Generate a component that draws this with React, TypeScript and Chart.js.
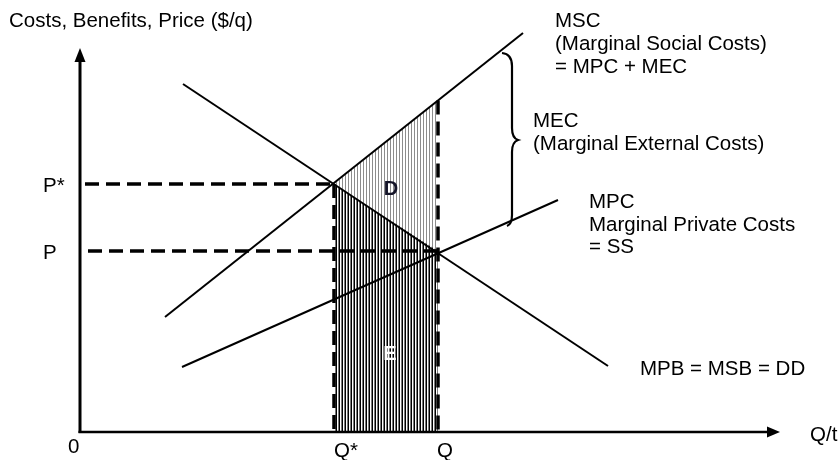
import React, { useEffect, useRef } from "react";
import { Chart, registerables } from "chart.js";

Chart.register(...registerables);

// ---- Data (x: quantity per time, y: $ per unit) ----
const Q_STAR = 50.8; // social optimum quantity
const Q_MKT = 71.6; // market quantity
const P_STAR = 62; // social optimum price
const P_MKT = 45.25; // market price
const MSC_AT_Q = 82.9; // MSC value at market quantity

const mpbX = [20.6, 105.6];
const mpbY = [87, 16.5];
const mscX = [17, 88.6];
const mscY = [28.75, 99.75];
const mpcX = [20.4, 95.6];
const mpcY = [16.25, 58];

const xLabels = ["Q*", "Q"];
const yLabels = ["P*", "P"];

const pts = (xs: number[], ys: number[]) => xs.map((x, i) => ({ x, y: ys[i] }));

const FONT = '"Liberation Sans", Arial, sans-serif';

export default function App() {
  const ref = useRef<HTMLCanvasElement | null>(null);

  useEffect(() => {
    const canvas = ref.current!;
    const ctx0 = canvas.getContext("2d")!;
    const mkPattern = (cols: string[]) => {
      const c = document.createElement("canvas");
      c.width = cols.length;
      c.height = 1;
      const g = c.getContext("2d")!;
      cols.forEach((col, i) => {
        g.fillStyle = col;
        g.fillRect(i, 0, 1, 1);
      });
      return ctx0.createPattern(c, "repeat")!;
    };
    const darkHatch = mkPattern(["#000000", "#ffffff", "#7a7a7a"]);
    const lightHatch = mkPattern(["#8c8c8c", "#ffffff", "#ffffff"]);

    const solid = (data: { x: number; y: number }[]) => ({
      data,
      borderColor: "#000",
      borderWidth: 2,
      pointRadius: 0,
      fill: false,
    });
    const dashed = (data: { x: number; y: number }[]) => ({
      data,
      borderColor: "#000",
      borderWidth: 3.5,
      borderDash: [14, 7],
      pointRadius: 0,
      fill: false,
    });

    const overlay = {
      id: "overlay",
      afterDraw(chart: any) {
        const ctx: CanvasRenderingContext2D = chart.ctx;
        const xs = chart.scales.x;
        const ys = chart.scales.y;
        const x0 = xs.getPixelForValue(0);
        const y0 = ys.getPixelForValue(0);
        const xTip = xs.getPixelForValue(140);
        const yTip = ys.getPixelForValue(96);
        ctx.save();
        // axes
        ctx.strokeStyle = "#000";
        ctx.fillStyle = "#000";
        ctx.lineWidth = 3;
        ctx.beginPath();
        ctx.moveTo(x0, y0 + 1);
        ctx.lineTo(x0, yTip + 10);
        ctx.stroke();
        ctx.lineWidth = 2.5;
        ctx.beginPath();
        ctx.moveTo(x0 - 1.5, y0);
        ctx.lineTo(xTip - 10, y0);
        ctx.stroke();
        ctx.beginPath();
        ctx.moveTo(x0, yTip);
        ctx.lineTo(x0 - 5.5, yTip + 14);
        ctx.lineTo(x0 + 5.5, yTip + 14);
        ctx.closePath();
        ctx.fill();
        ctx.beginPath();
        ctx.moveTo(xTip, y0);
        ctx.lineTo(xTip - 13, y0 - 5.5);
        ctx.lineTo(xTip - 13, y0 + 5.5);
        ctx.closePath();
        ctx.fill();

        // brace for MEC
        ctx.lineWidth = 2.2;
        ctx.beginPath();
        ctx.moveTo(502, 53);
        ctx.quadraticCurveTo(512, 54, 512, 66);
        ctx.lineTo(512, 128);
        ctx.quadraticCurveTo(512, 138, 518, 140);
        ctx.quadraticCurveTo(512, 142, 512, 152);
        ctx.lineTo(512, 215);
        ctx.quadraticCurveTo(512, 224, 507, 226);
        ctx.stroke();

        // texts
        ctx.textBaseline = "alphabetic";
        ctx.textAlign = "left";
        ctx.font = `20.5px ${FONT}`;
        ctx.fillStyle = "#000";
        const t = (s: string, x: number, y: number) => ctx.fillText(s, x, y);
        t("Costs, Benefits, Price ($/q)", 9, 27);
        t("MSC", 555, 27);
        t("(Marginal Social Costs)", 555, 50);
        t("= MPC + MEC", 555, 73);
        t("MEC", 533, 127);
        t("(Marginal External Costs)", 533, 150);
        t("MPC", 589, 208);
        t("Marginal Private Costs", 589, 231);
        t("= SS", 589, 253);
        t("MPB = MSB = DD", 640, 375);
        t("Q/t", 810, 441);
        t("0", 68, 453);
        t(yLabels[0], 43, ys.getPixelForValue(P_STAR) + 8);
        t(yLabels[1], 43, ys.getPixelForValue(P_MKT) + 8);
        t(xLabels[0], xs.getPixelForValue(Q_STAR), 457);
        t(xLabels[1], xs.getPixelForValue(Q_MKT) - 1, 457);

        ctx.font = `bold 20px ${FONT}`;
        ctx.textAlign = "center";
        ctx.fillStyle = "#141428";
        t("D", 391, 195);
        ctx.fillStyle = "#ffffff";
        t("E", 390, 360);
        ctx.restore();
      },
    };

    const chart = new Chart(canvas, {
      type: "line",
      data: {
        datasets: [
          {
            data: [
              { x: Q_STAR, y: P_STAR },
              { x: Q_MKT, y: P_MKT },
            ],
            borderWidth: 0,
            borderColor: "rgba(0,0,0,0)",
            pointRadius: 0,
            backgroundColor: darkHatch as any,
            fill: "origin",
          },
          {
            data: [
              { x: Q_STAR, y: P_STAR },
              { x: Q_MKT, y: MSC_AT_Q },
            ],
            borderWidth: 0,
            borderColor: "rgba(0,0,0,0)",
            pointRadius: 0,
            backgroundColor: lightHatch as any,
            fill: 0,
          },
          solid(pts(mpbX, mpbY)),
          solid(pts(mscX, mscY)),
          solid(pts(mpcX, mpcY)),
          dashed([
            { x: 1, y: P_STAR },
            { x: Q_STAR, y: P_STAR },
          ]),
          dashed([
            { x: 1.6, y: P_MKT },
            { x: Q_MKT, y: P_MKT },
          ]),
          dashed([
            { x: Q_STAR, y: P_STAR },
            { x: Q_STAR, y: 0 },
          ]),
          dashed([
            { x: Q_MKT, y: MSC_AT_Q },
            { x: Q_MKT, y: 0 },
          ]),
        ] as any,
      },
      options: {
        responsive: false,
        animation: false,
        devicePixelRatio: 1,
        layout: { padding: { left: 80, right: 60, top: 20, bottom: 28 } },
        scales: {
          x: { type: "linear", min: 0, max: 140, display: false },
          y: { type: "linear", min: 0, max: 103, display: false },
        },
        plugins: {
          legend: { display: false },
          tooltip: { enabled: false },
          title: { display: false },
          filler: { drawTime: "beforeDatasetsDraw", propagate: false } as any,
        },
        elements: { line: { tension: 0 } },
      },
      plugins: [overlay],
    });
    return () => chart.destroy();
  }, []);

  return (
    <div style={{ position: "absolute", left: 0, top: 0, width: 840, height: 460, background: "#fff" }}>
      <canvas ref={ref} width={840} height={460} style={{ display: "block" }} />
    </div>
  );
}
